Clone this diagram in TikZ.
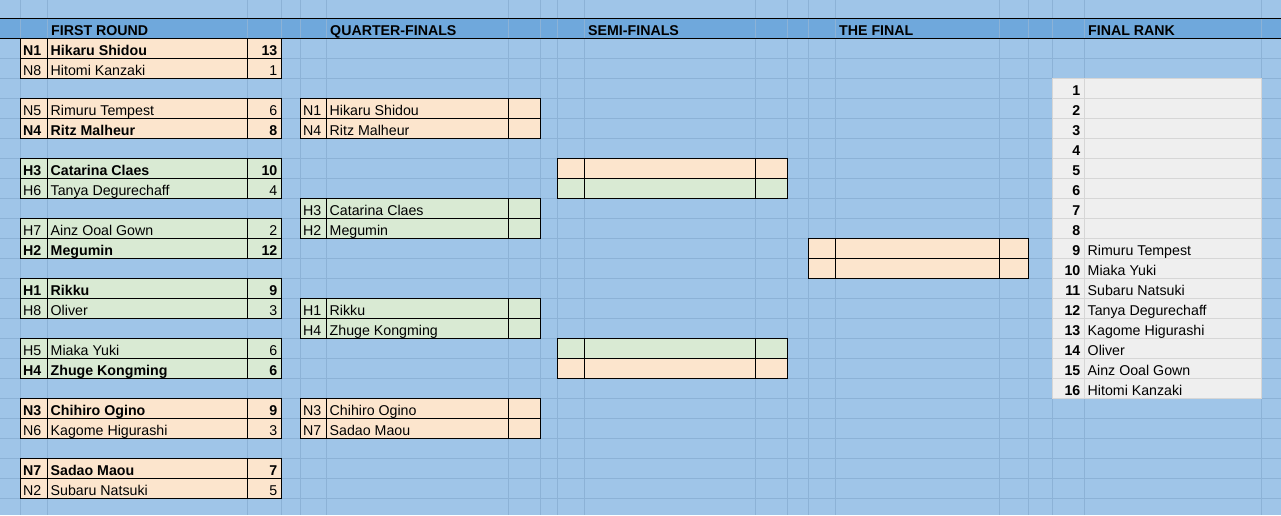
\documentclass[tikz,border=0pt]{standalone}
\usepackage{fontspec}
\setmainfont{Liberation Sans}

\definecolor{sheet}{HTML}{9FC5E8}
\definecolor{headband}{HTML}{6FA8DC}
\definecolor{gridline}{HTML}{8CB2D6}
\definecolor{north}{HTML}{FCE5CD}
\definecolor{south}{HTML}{D9EAD3}
\definecolor{rankfill}{HTML}{EFEFEF}
\definecolor{rankline}{HTML}{D6D6D6}

\tikzset{
  grid/.style={draw=gridline, line width=1pt},
  box/.style={draw=black, line width=1pt},
  txt/.style={anchor=base west, inner sep=0pt, font=\fontsize{14.2}{16}\selectfont},
  win/.style={txt, font=\fontsize{14.2}{16}\selectfont\bfseries},
  head/.style={win}
}

% column edges of the round in use
\newcommand{\roundcols}[4]{\def\xcode{#1}\def\xname{#2}\def\xscore{#3}\def\xend{#4}}

% one player line: name, top, fill, seed, player, score, style
\newcommand{\slot}[7]{%
  \filldraw[box, fill=#3] (\xcode,#2) rectangle (\xend,#2+20);
  \draw[box] (\xname,#2) -- (\xname,#2+20) (\xscore,#2) -- (\xscore,#2+20);
  \node[#7] (#1c) at (\xcode+3,#2+17) {#4};
  \node[#7] (#1n) at (\xname+3.5,#2+17) {#5};
  \node[#7, anchor=base east] (#1s) at (\xend-3.5,#2+17) {#6};
}

\begin{document}
\begin{tikzpicture}[x=1pt, y=-1pt]
  \useasboundingbox (0,0) rectangle (1281,515);
  \fill[sheet] (0,0) rectangle (1281,515);
  \fill[headband] (0,18) rectangle (1281,38);

  \foreach \x in {20,47,247,281,300,326,508,540,557,584,755,787,808,835,999,1028,1052,1084,1261}
    \draw[grid] (\x,0) -- (\x,515);
  \foreach \y in {58,78,...,498}
    \draw[grid] (0,\y) -- (1281,\y);
  \draw[box] (0,18) -- (1281,18) (0,38) -- (1281,38);

  \node[head] (h1) at (51,35) {FIRST ROUND};
  \node[head] (h2) at (330,35) {QUARTER-FINALS};
  \node[head] (h3) at (588,35) {SEMI-FINALS};
  \node[head] (h4) at (839,35) {THE FINAL};
  \node[head] (h5) at (1088,35) {FINAL RANK};

  % first round
  \roundcols{20}{47}{247}{281}
  \slot{r1a}{38}{north}{N1}{Hikaru Shidou}{13}{win}
  \slot{r1b}{58}{north}{N8}{Hitomi Kanzaki}{1}{txt}
  \slot{r2a}{98}{north}{N5}{Rimuru Tempest}{6}{txt}
  \slot{r2b}{118}{north}{N4}{Ritz Malheur}{8}{win}
  \slot{r3a}{158}{south}{H3}{Catarina Claes}{10}{win}
  \slot{r3b}{178}{south}{H6}{Tanya Degurechaff}{4}{txt}
  \slot{r4a}{218}{south}{H7}{Ainz Ooal Gown}{2}{txt}
  \slot{r4b}{238}{south}{H2}{Megumin}{12}{win}
  \slot{r5a}{278}{south}{H1}{Rikku}{9}{win}
  \slot{r5b}{298}{south}{H8}{Oliver}{3}{txt}
  \slot{r6a}{338}{south}{H5}{Miaka Yuki}{6}{txt}
  \slot{r6b}{358}{south}{H4}{Zhuge Kongming}{6}{win}
  \slot{r7a}{398}{north}{N3}{Chihiro Ogino}{9}{win}
  \slot{r7b}{418}{north}{N6}{Kagome Higurashi}{3}{txt}
  \slot{r8a}{458}{north}{N7}{Sadao Maou}{7}{win}
  \slot{r8b}{478}{north}{N2}{Subaru Natsuki}{5}{txt}

  % quarter-finals
  \roundcols{300}{326}{508}{540}
  \slot{q1a}{98}{north}{N1}{Hikaru Shidou}{}{txt}
  \slot{q1b}{118}{north}{N4}{Ritz Malheur}{}{txt}
  \slot{q2a}{198}{south}{H3}{Catarina Claes}{}{txt}
  \slot{q2b}{218}{south}{H2}{Megumin}{}{txt}
  \slot{q3a}{298}{south}{H1}{Rikku}{}{txt}
  \slot{q3b}{318}{south}{H4}{Zhuge Kongming}{}{txt}
  \slot{q4a}{398}{north}{N3}{Chihiro Ogino}{}{txt}
  \slot{q4b}{418}{north}{N7}{Sadao Maou}{}{txt}

  % semi-finals
  \roundcols{557}{584}{755}{787}
  \slot{s1a}{158}{north}{}{}{}{txt}
  \slot{s1b}{178}{south}{}{}{}{txt}
  \slot{s2a}{338}{south}{}{}{}{txt}
  \slot{s2b}{358}{north}{}{}{}{txt}

  % the final
  \roundcols{808}{835}{999}{1028}
  \slot{f1a}{238}{north}{}{}{}{txt}
  \slot{f1b}{258}{north}{}{}{}{txt}

  % final rank
  \filldraw[fill=rankfill, draw=rankline, line width=1pt] (1052,78) rectangle (1261,398);
  \draw[draw=rankline, line width=1pt] (1084,78) -- (1084,398);
  \foreach \y in {98,118,...,378}
    \draw[draw=rankline, line width=1pt] (1052,\y) -- (1261,\y);
  \foreach \r in {1,...,16}
    \node[win, anchor=base east] (rank\r) at (1080.5,78+20*\r-3) {\r};
  \foreach \r/\who in {9/Rimuru Tempest, 10/Miaka Yuki, 11/Subaru Natsuki,
      12/Tanya Degurechaff, 13/Kagome Higurashi, 14/Oliver, 15/Ainz Ooal Gown,
      16/Hitomi Kanzaki}
    \node[txt] (who\r) at (1087.5,78+20*\r-3) {\who};
\end{tikzpicture}
\end{document}
